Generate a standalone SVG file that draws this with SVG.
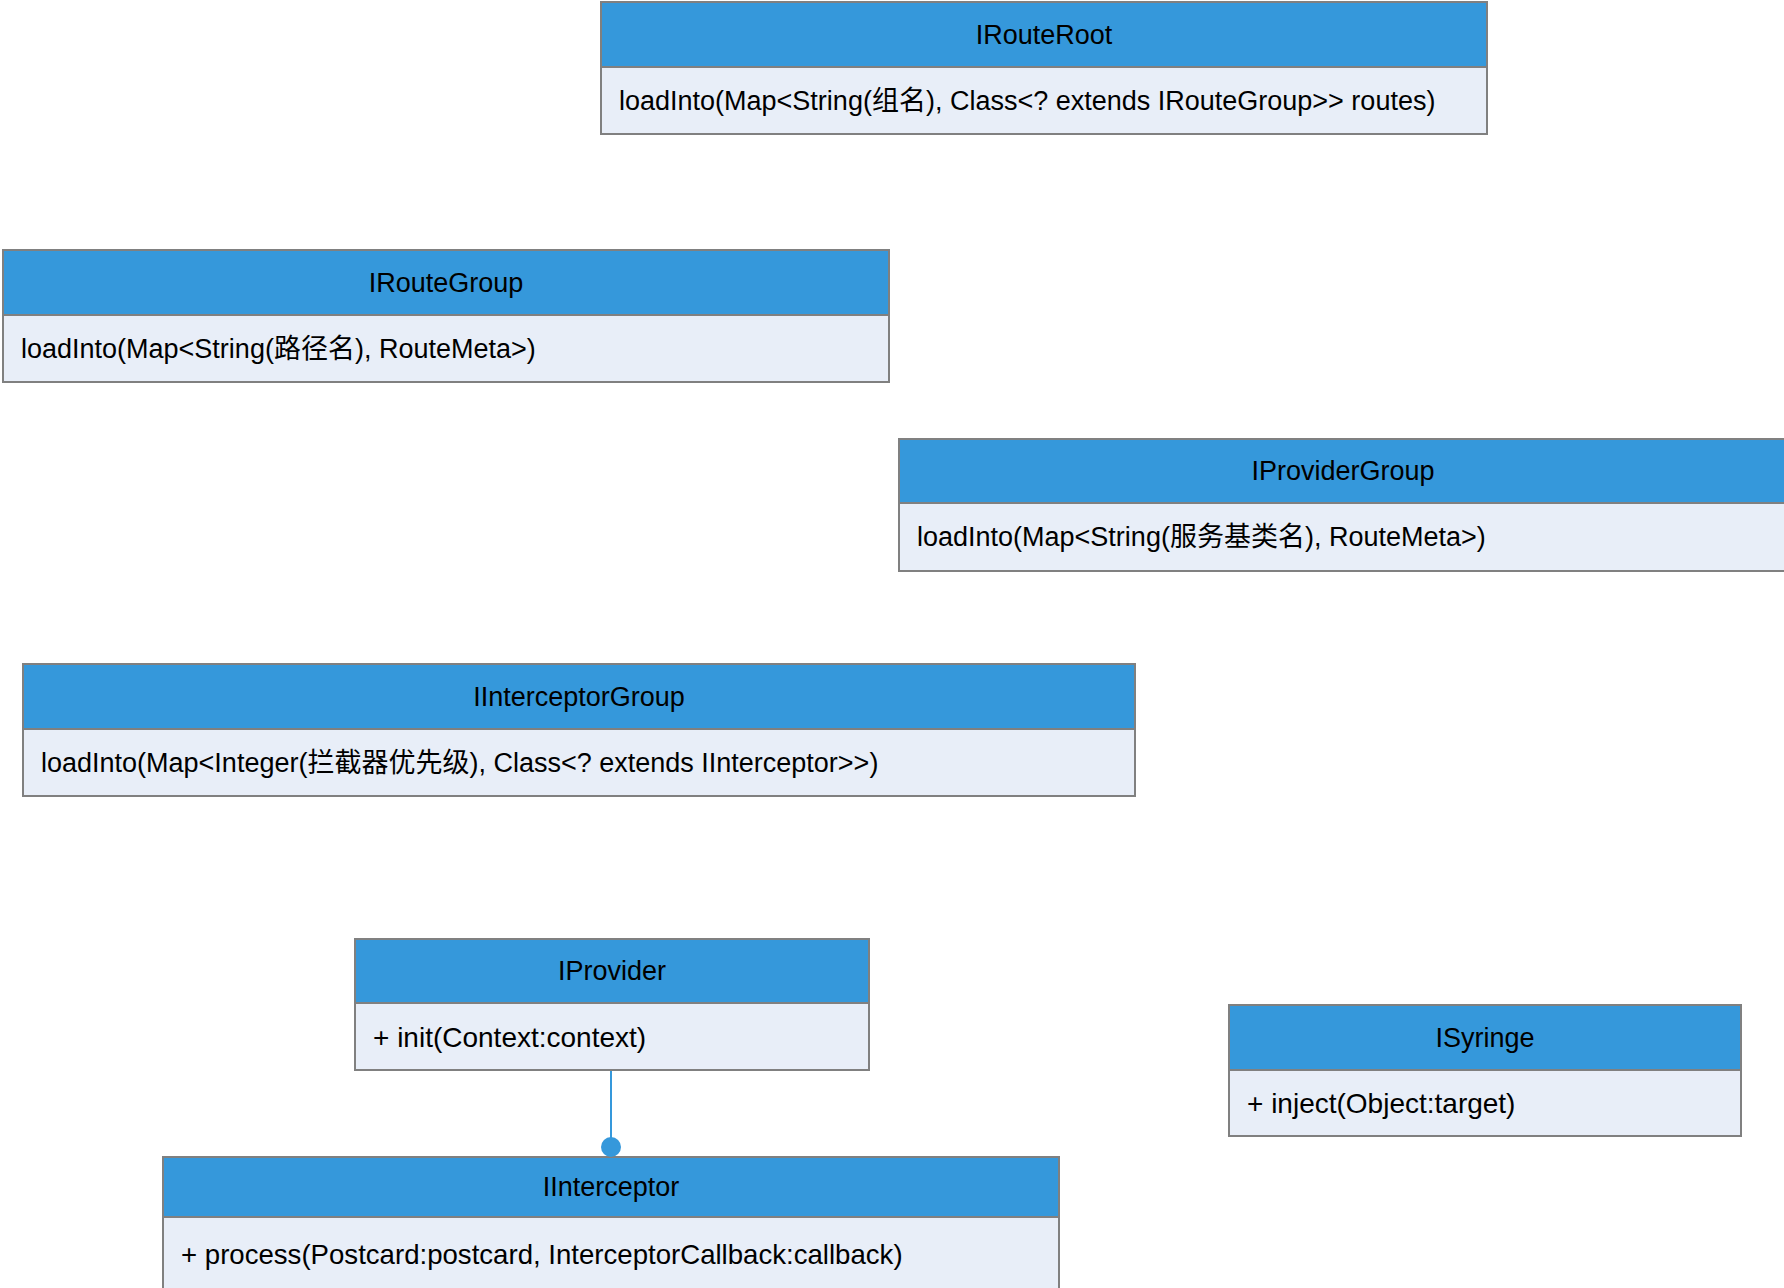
<svg xmlns="http://www.w3.org/2000/svg" width="1784" height="1288" viewBox="0 0 1784 1288">
<style>
.hd{fill:#3598db;stroke:#808080;stroke-width:2}
.bd{fill:#e8eef8;stroke:#808080;stroke-width:2}
.t{font-family:"Liberation Sans","Noto Sans CJK SC",sans-serif;font-size:27px;fill:#000;dominant-baseline:central}
.m{font-size:28px}
.p{font-size:27.6px}
.c{text-anchor:middle}
.con{stroke:#3598db;stroke-width:2;fill:none}
</style>
<rect width="1784" height="1288" fill="#fff"/>
<g id="IRouteRoot">
<rect class="bd" x="601" y="67" width="886" height="67"/>
<rect class="hd" x="601" y="2" width="886" height="65"/>
<text class="t c" x="1044" y="35">IRouteRoot</text>
<text class="t" x="619" y="101">loadInto(Map&lt;String(组名), Class&lt;? extends IRouteGroup&gt;&gt; routes)</text>
</g>
<g id="IRouteGroup">
<rect class="bd" x="3" y="315" width="886" height="67"/>
<rect class="hd" x="3" y="250" width="886" height="65"/>
<text class="t c" x="446" y="283">IRouteGroup</text>
<text class="t" x="21" y="349">loadInto(Map&lt;String(路径名), RouteMeta&gt;)</text>
</g>
<g id="IProviderGroup">
<rect class="bd" x="899" y="503" width="888" height="68"/>
<rect class="hd" x="899" y="439" width="888" height="64"/>
<text class="t c" x="1343" y="471">IProviderGroup</text>
<text class="t" x="917" y="537">loadInto(Map&lt;String(服务基类名), RouteMeta&gt;)</text>
</g>
<g id="IInterceptorGroup">
<rect class="bd" x="23" y="729" width="1112" height="67"/>
<rect class="hd" x="23" y="664" width="1112" height="65"/>
<text class="t c" x="579" y="697">IInterceptorGroup</text>
<text class="t" x="41" y="763">loadInto(Map&lt;Integer(拦截器优先级), Class&lt;? extends IInterceptor&gt;&gt;)</text>
</g>
<g id="IProvider">
<rect class="bd" x="355" y="1003" width="514" height="67"/>
<rect class="hd" x="355" y="939" width="514" height="64"/>
<text class="t c" x="612" y="971">IProvider</text>
<text class="t m" x="373" y="1037">+ init(Context:context)</text>
</g>
<g id="IInterceptor">
<rect class="bd" x="163" y="1217" width="896" height="75"/>
<rect class="hd" x="163" y="1157" width="896" height="60"/>
<text class="t c" x="611" y="1187">IInterceptor</text>
<text class="t p" x="181" y="1254">+ process(Postcard:postcard, InterceptorCallback:callback)</text>
</g>
<g id="ISyringe">
<rect class="bd" x="1229" y="1070" width="512" height="66"/>
<rect class="hd" x="1229" y="1005" width="512" height="65"/>
<text class="t c" x="1485" y="1038">ISyringe</text>
<text class="t m" x="1247" y="1103">+ inject(Object:target)</text>
</g>
<g id="connectors">
<line class="con" x1="611" y1="1071" x2="611" y2="1147"/>
<circle cx="611" cy="1147" r="10" fill="#3598db"/>
</g>
</svg>
